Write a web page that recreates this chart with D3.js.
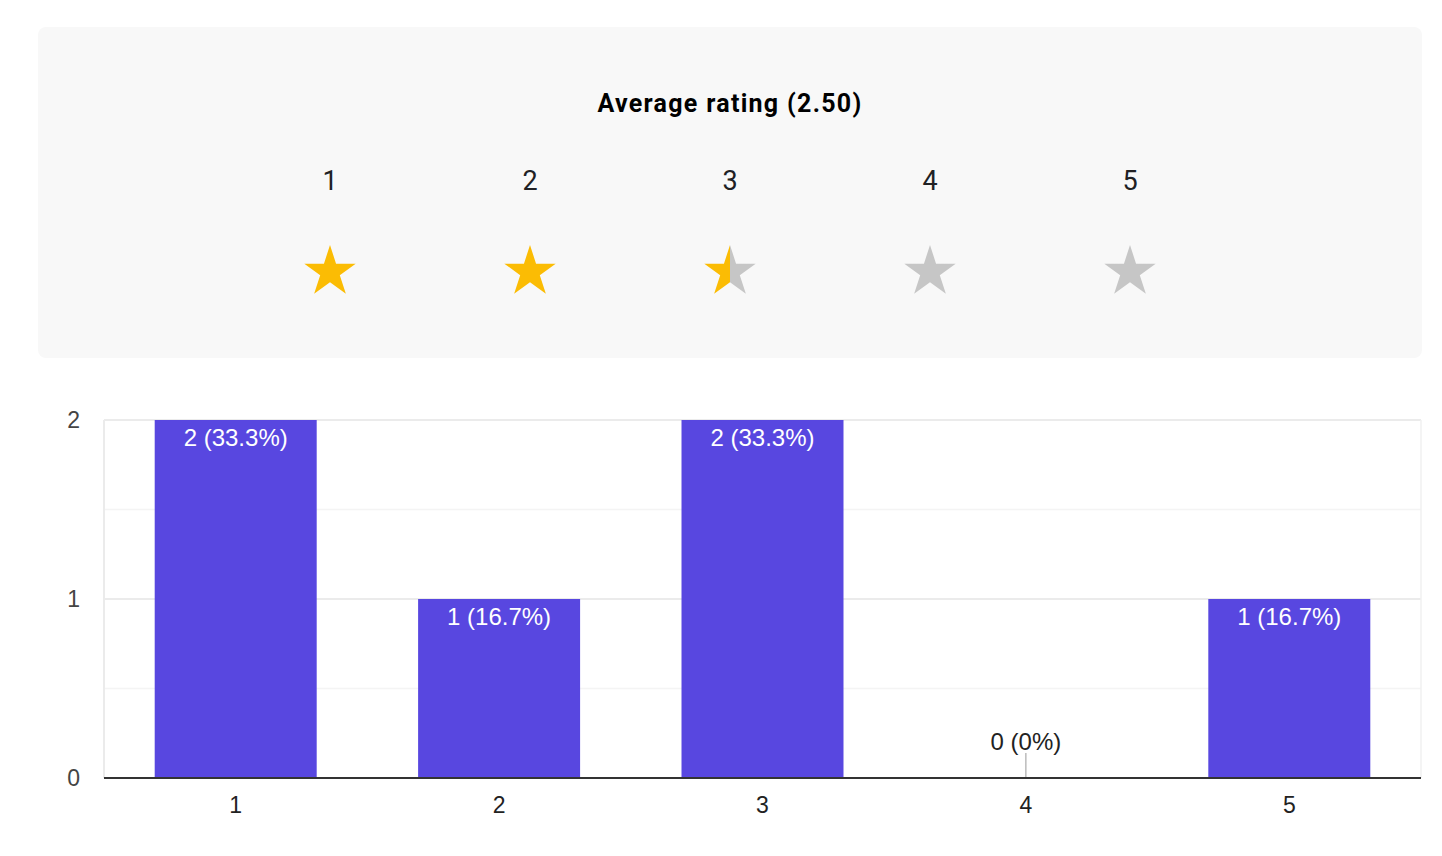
<!DOCTYPE html>
<html>
<head>
<meta charset="utf-8">
<script src="https://cdn.jsdelivr.net/npm/d3@7"></script>
<style>
  body { margin: 0; background: #fff; font-family: Roboto, Arial, sans-serif; }
  .chart-text { font-family: Arial, "Liberation Sans", sans-serif; }
</style>
</head>
<body>
<svg id="chart" width="1442" height="856"></svg>
<script>
const ratings = ['1', '2', '3', '4', '5'];
const counts = [2, 1, 2, 0, 1];
const yTicks = [0, 1, 2];
const averageRating = 2.5;

const svg = d3.select('#chart');
const total = d3.sum(counts);

// summary panel
svg.append('rect')
  .attr('x', 38).attr('y', 27)
  .attr('width', 1384).attr('height', 331)
  .attr('rx', 8)
  .attr('fill', '#f8f8f8');

svg.append('text')
  .attr('x', 730).attr('y', 112)
  .attr('text-anchor', 'middle')
  .attr('font-size', 25)
  .attr('font-weight', 700)
  .attr('letter-spacing', 1.3)
  .attr('fill', '#000')
  .text(`Average rating (${averageRating.toFixed(2)})`);

const starX = d3.scalePoint().domain(ratings).range([330, 1130]);

svg.selectAll('text.star-label')
  .data(ratings)
  .join('text')
  .attr('class', 'star-label')
  .attr('x', d => starX(d))
  .attr('y', 190)
  .attr('text-anchor', 'middle')
  .attr('font-size', 27)
  .attr('fill', '#202124')
  .text(d => d);

// five point star path, centred on 0,0
const R = 27, r = R * 0.382;
const starPts = d3.range(10).map(i => {
  const a = -Math.PI / 2 + i * Math.PI / 5;
  const rad = i % 2 === 0 ? R : r;
  return [rad * Math.cos(a), rad * Math.sin(a)];
});
const starPath = 'M' + starPts.join('L') + 'Z';

const defs = svg.append('defs');
ratings.forEach((d, i) => {
  const frac = Math.max(0, Math.min(1, averageRating - i));
  const g = defs.append('linearGradient')
    .attr('id', 'starfill' + i)
    .attr('x1', '0%').attr('x2', '100%');
  g.append('stop').attr('offset', frac * 100 + '%').attr('stop-color', '#fbbc04');
  g.append('stop').attr('offset', frac * 100 + '%').attr('stop-color', '#c6c6c6');
});

svg.selectAll('path.star')
  .data(ratings)
  .join('path')
  .attr('class', 'star')
  .attr('transform', d => `translate(${starX(d)},272)`)
  .attr('d', starPath)
  .attr('fill', (d, i) => `url(#starfill${i})`);

// bar chart
const plotLeft = 104, plotRight = 1421, plotTop = 420, plotBottom = 778;

const x = d3.scaleBand()
  .domain(ratings)
  .range([plotLeft, plotRight])
  .paddingInner(0.385)
  .paddingOuter(0.1925);

const y = d3.scaleLinear().domain([0, 2]).range([plotBottom, plotTop]);

// minor gridlines
svg.selectAll('line.minor')
  .data([0.5, 1.5])
  .join('line')
  .attr('class', 'minor')
  .attr('x1', plotLeft).attr('x2', plotRight)
  .attr('y1', d => y(d)).attr('y2', d => y(d))
  .attr('stroke', '#f4f4f4')
  .attr('stroke-width', 1.5);

// major gridlines
svg.selectAll('line.major')
  .data(yTicks.filter(d => d > 0))
  .join('line')
  .attr('class', 'major')
  .attr('x1', plotLeft).attr('x2', plotRight)
  .attr('y1', d => y(d)).attr('y2', d => y(d))
  .attr('stroke', '#ebebeb')
  .attr('stroke-width', 2);

// frame sides
svg.append('line')
  .attr('x1', plotLeft).attr('x2', plotLeft)
  .attr('y1', plotTop).attr('y2', plotBottom)
  .attr('stroke', '#ebebeb').attr('stroke-width', 2);
svg.append('line')
  .attr('x1', plotRight).attr('x2', plotRight)
  .attr('y1', plotTop).attr('y2', plotBottom)
  .attr('stroke', '#f0f0f0').attr('stroke-width', 1.5);

svg.selectAll('text.ytick')
  .data(yTicks)
  .join('text')
  .attr('class', 'ytick chart-text')
  .attr('x', 80)
  .attr('y', d => y(d) + 8)
  .attr('text-anchor', 'end')
  .attr('font-size', 23)
  .attr('fill', '#444')
  .text(d => d);

const data = ratings.map((d, i) => ({ rating: d, count: counts[i] }));

svg.selectAll('rect.bar')
  .data(data)
  .join('rect')
  .attr('class', 'bar')
  .attr('x', d => x(d.rating))
  .attr('y', d => y(d.count))
  .attr('width', x.bandwidth())
  .attr('height', d => plotBottom - y(d.count))
  .attr('fill', '#5847e0');

const pct = v => {
  const p = v / total * 100;
  return (Math.round(p * 10) / 10) + '%';
};

svg.selectAll('text.bar-label')
  .data(data)
  .join('text')
  .attr('class', 'bar-label chart-text')
  .attr('x', d => x(d.rating) + x.bandwidth() / 2)
  .attr('y', d => d.count > 0 ? y(d.count) + 26 : plotBottom - 28)
  .attr('text-anchor', 'middle')
  .attr('font-size', 24)
  .attr('fill', d => d.count > 0 ? '#fff' : '#222')
  .text(d => `${d.count} (${pct(d.count)})`);

svg.selectAll('line.zero-stem')
  .data(data.filter(d => d.count === 0))
  .join('line')
  .attr('class', 'zero-stem')
  .attr('x1', d => x(d.rating) + x.bandwidth() / 2)
  .attr('x2', d => x(d.rating) + x.bandwidth() / 2)
  .attr('y1', plotBottom - 25).attr('y2', plotBottom)
  .attr('stroke', '#999').attr('stroke-width', 1);

// x axis baseline
svg.append('line')
  .attr('x1', plotLeft).attr('x2', plotRight)
  .attr('y1', plotBottom).attr('y2', plotBottom)
  .attr('stroke', '#333').attr('stroke-width', 2);

svg.selectAll('text.xtick')
  .data(ratings)
  .join('text')
  .attr('class', 'xtick chart-text')
  .attr('x', d => x(d) + x.bandwidth() / 2)
  .attr('y', 813)
  .attr('text-anchor', 'middle')
  .attr('font-size', 23)
  .attr('fill', '#222')
  .text(d => d);
</script>
</body>
</html>
